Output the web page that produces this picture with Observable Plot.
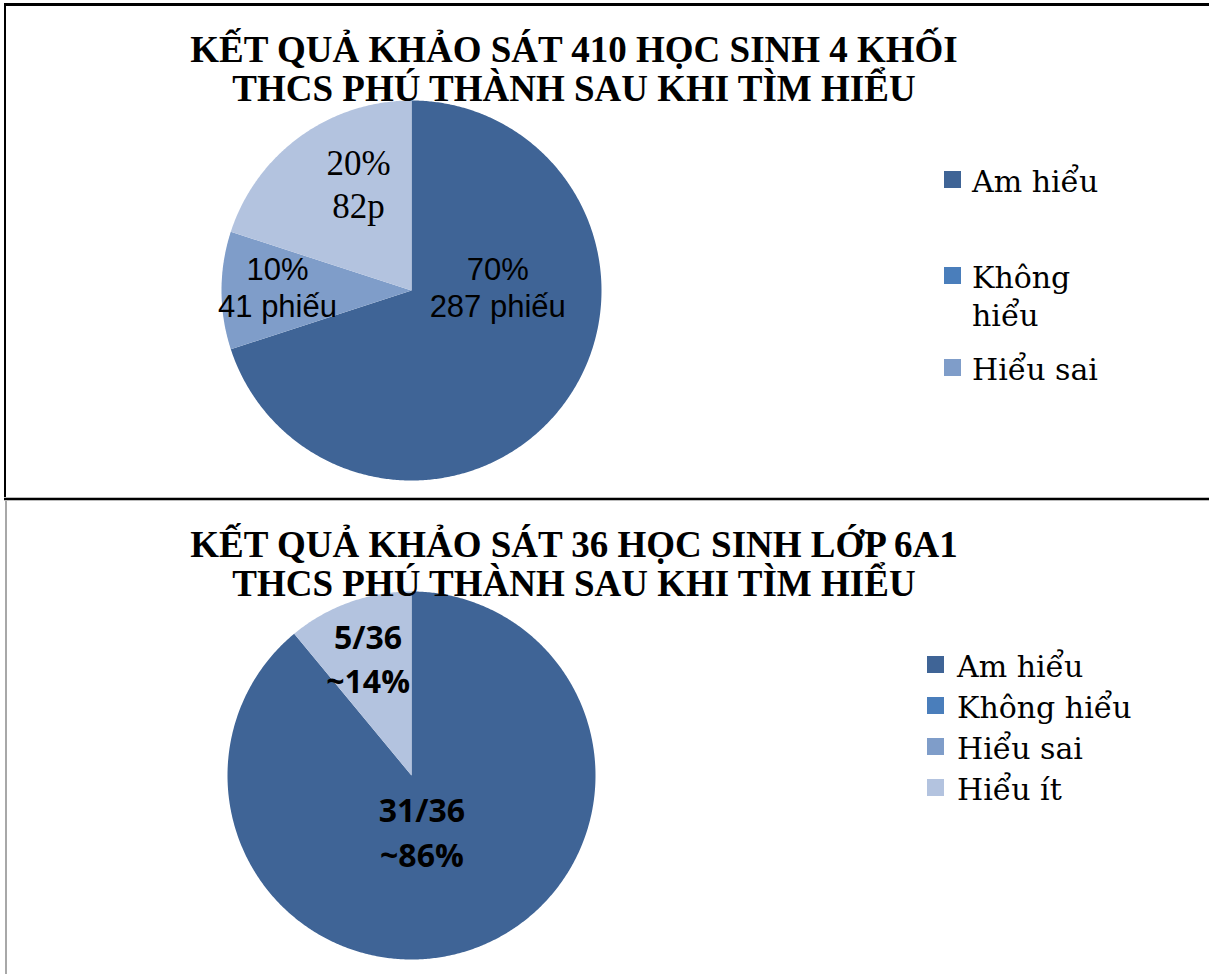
<!DOCTYPE html>
<html><head><meta charset="utf-8">
<script src="https://cdn.jsdelivr.net/npm/d3@7"></script>
<script src="https://cdn.jsdelivr.net/npm/@observablehq/plot@0.6"></script>
<style>
body{margin:0;background:#fff;}
#page{position:relative;width:1209px;height:974px;overflow:hidden;background:#fff;}
.title{position:absolute;left:0;width:1148px;text-align:center;font-family:"Liberation Serif",serif;font-weight:bold;font-size:37px;line-height:39px;color:#000;white-space:nowrap;}
.plot{position:absolute;left:0;}
.leg{position:absolute;font-family:"DejaVu Serif",serif;font-size:30px;line-height:38px;color:#000;white-space:nowrap;}
.sw{position:absolute;width:17px;height:17px;}
.bd{position:absolute;}
</style></head><body><div id="page"></div><script>
// ---------- data ----------
const topTitle = ["KẾT QUẢ KHẢO SÁT 410 HỌC SINH 4 KHỐI", "THCS PHÚ THÀNH SAU KHI TÌM HIỂU"];
const topCategories = ["Am hiểu", "Không hiểu", "Hiểu sai"];
const topVotes = [287, 41, 82];
const topLabels = ["70%\n287 phiếu", "10%\n41 phiếu", "20%\n82p"];
const topLegend = ["Am hiểu", "Không\nhiểu", "Hiểu sai"];

const bottomTitle = ["KẾT QUẢ KHẢO SÁT 36 HỌC SINH LỚP 6A1", "THCS PHÚ THÀNH SAU KHI TÌM HIỂU"];
const bottomCategories = ["Am hiểu", "Không hiểu", "Hiểu sai", "Hiểu ít"];
const bottomShare = [89, 0, 0, 11];   // slice share as drawn
const bottomLabels = ["31/36\n~86%", "", "", "5/36\n~14%"];

// ---------- styles ----------
const dark = "#3F6496", mid = "#4A7EBB", light = "#7F9DC9", pale = "#B3C3DF";
const topSliceColors = [dark, light, pale];
const topLegendColors = [dark, mid, light];
const bottomSliceColors = [dark, mid, light, pale];

const page = document.getElementById("page");
function add(tag, cls, css, html) {
  const el = document.createElement(tag);
  if (cls) el.className = cls;
  Object.assign(el.style, css);
  if (html != null) el.innerHTML = html;
  page.appendChild(el);
  return el;
}

// pie geometry from values (angles clockwise from 12 o'clock)
function slices(categories, values) {
  const total = d3.sum(values);
  let a = 0;
  return categories.map((c, i) => {
    const a0 = a, a1 = a + values[i] / total * 2 * Math.PI;
    a = a1;
    return {key: c, i, a0, a1, mid: (a0 + a1) / 2, value: values[i]};
  });
}
function polygons(sl) {
  const pts = [];
  for (const s of sl) {
    if (s.value <= 0) continue;
    pts.push({key: s.key, x: 0, y: 0});
    const n = Math.max(2, Math.ceil((s.a1 - s.a0) / (Math.PI / 360)));
    for (let k = 0; k <= n; k++) {
      const t = s.a0 + (s.a1 - s.a0) * k / n;
      pts.push({key: s.key, x: Math.sin(t), y: Math.cos(t)});
    }
    pts.push({key: s.key, x: 0, y: 0});
  }
  return pts;
}
function labelMark(s, text, opts) {
  return Plot.text([{x: 0.6 * Math.sin(s.mid), y: 0.6 * Math.cos(s.mid), t: text}],
    {x: "x", y: "y", text: "t", fill: "black", lineAnchor: "middle", ...opts});
}

// ---------- top chart ----------
const topSl = slices(topCategories, topVotes);
const sans = "'Liberation Sans', Arial, sans-serif";
const serif = "'Liberation Serif', 'Times New Roman', serif";
const topLabelStyle = [
  {fontFamily: sans, fontSize: 31, lineHeight: 1.2, dx: -6, dy: -71},
  {fontFamily: sans, fontSize: 31, lineHeight: 1.2, dx: -20, dy: -4},
  {fontFamily: serif, fontSize: 35, lineHeight: 1.23, dx: 14, dy: -16}
];
const topPlot = Plot.plot({
  width: 1209, height: 500, margin: 0,
  x: {domain: [-1, 1], range: [221, 601], axis: null},
  y: {domain: [-1, 1], range: [480, 100], axis: null},
  color: {type: "ordinal", domain: topCategories, range: topSliceColors},
  marks: [
    Plot.line(polygons(topSl), {x: "x", y: "y", z: "key", fill: "key", stroke: "none"}),
    ...topSl.map((s, i) => labelMark(s, topLabels[i], topLabelStyle[i]))
  ]
});
topPlot.classList.add("plot");
topPlot.style.top = "0px";
page.appendChild(topPlot);

// ---------- bottom chart ----------
const botSl = slices(bottomCategories, bottomShare);
const botLabelStyle = [
  {dx: -27, dy: -49}, {}, {}, {dx: -6, dy: -15}
];
const botPlot = Plot.plot({
  width: 1209, height: 474, margin: 0,
  x: {domain: [-1, 1], range: [227, 595], axis: null},
  y: {domain: [-1, 1], range: [459, 91], axis: null},
  color: {type: "ordinal", domain: bottomCategories, range: bottomSliceColors},
  marks: [
    Plot.line(polygons(botSl), {x: "x", y: "y", z: "key", fill: "key", stroke: "none"}),
    ...botSl.filter(s => bottomLabels[s.i]).map(s => labelMark(s, bottomLabels[s.i],
      {fontFamily: "'Open Sans', sans-serif", fontWeight: "bold", fontSize: 32, lineHeight: 1.4, ...botLabelStyle[s.i]}))
  ]
});
botPlot.classList.add("plot");
botPlot.style.top = "500px";
page.appendChild(botPlot);

// ---------- titles ----------
add("div", "title", {top: "30px"}, topTitle.join("<br>"));
add("div", "title", {top: "525px"}, bottomTitle.join("<br>"));

// ---------- legends ----------
const topLegendTops = [163, 259, 351];
topLegend.forEach((t, i) => {
  const top = topLegendTops[i];
  add("div", "sw", {left: "944px", top: (top + 8) + "px", background: topLegendColors[i]});
  add("div", "leg", {left: "972px", top: top + "px"}, t.replace("\n", "<br>"));
});
bottomCategories.forEach((t, i) => {
  const top = 648 + i * 41;
  add("div", "sw", {left: "927px", top: (top + 8) + "px", background: bottomSliceColors[i]});
  add("div", "leg", {left: "957px", top: top + "px"}, t);
});

// ---------- frame lines ----------
add("div", "bd", {left: "4px", top: "3px", width: "1205px", height: "3px", background: "#000"});
add("div", "bd", {left: "4px", top: "3px", width: "2px", height: "496px", background: "#000"});
add("div", "bd", {left: "4px", top: "497px", width: "1205px", height: "1px", background: "#bbb"});
add("div", "bd", {left: "4px", top: "498px", width: "1205px", height: "2px", background: "#000"});
add("div", "bd", {left: "4px", top: "500px", width: "1205px", height: "1px", background: "#bbb"});
add("div", "bd", {left: "5px", top: "501px", width: "2px", height: "473px", background: "#a8a8a8"});
</script></body></html>
